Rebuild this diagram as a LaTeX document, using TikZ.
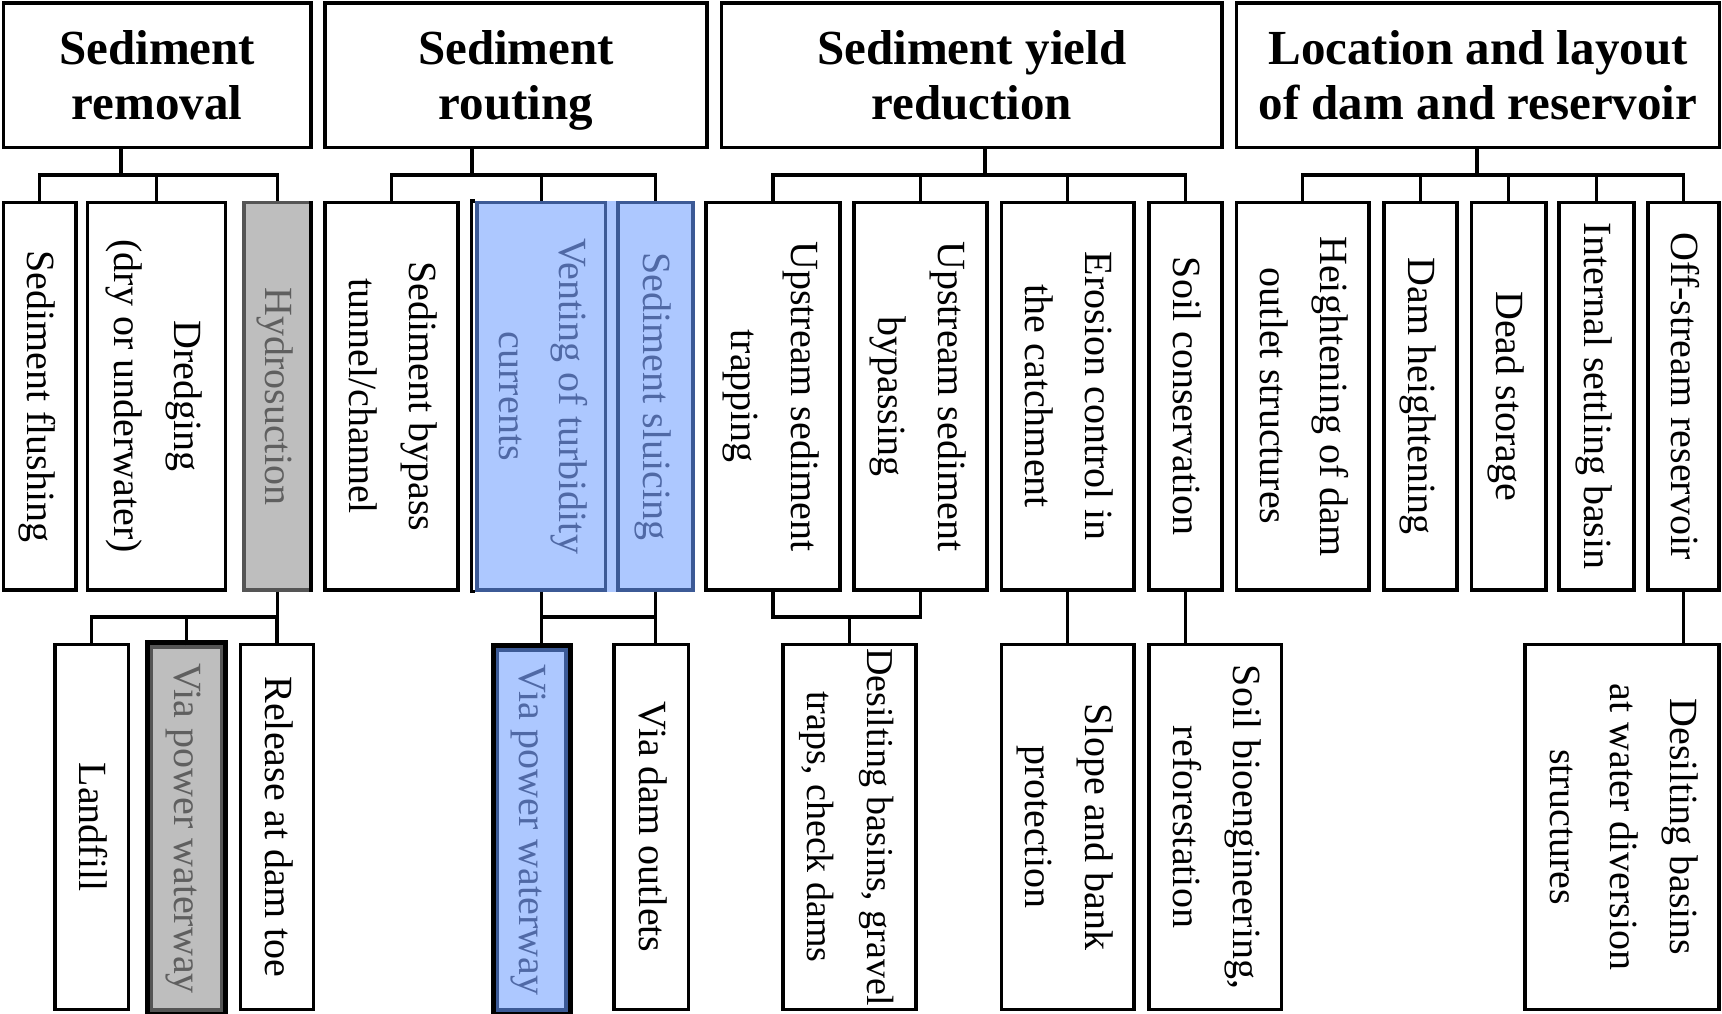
\documentclass[tikz,border=0pt]{standalone}
\usepackage{fontspec}
\setmainfont{Liberation Serif}
\usepackage{graphicx}
\usepackage{tikz}

\definecolor{bluefill}{RGB}{173,200,255}
\definecolor{blueline}{RGB}{60,90,150}
\definecolor{bluetext}{RGB}{80,105,165}
\definecolor{greyfill}{RGB}{190,190,190}
\definecolor{greyline}{RGB}{85,85,85}
\definecolor{greytext}{RGB}{95,95,95}

% vertical label, read from top to bottom
\newcommand{\vlab}[1]{\rotatebox{-90}{\begin{tabular}{@{}c@{}}#1\end{tabular}}}

\begin{document}
\begin{tikzpicture}[x=1pt, y=-1pt, line width=3.3pt,
    head/.style={draw, inner sep=0pt, minimum height=144.5pt, align=center,
        text depth=0pt, font=\fontsize{49}{55}\selectfont\bfseries},
    sub/.style={draw, inner sep=0pt, minimum height=387.5pt,
        font=\fontsize{40}{60}\selectfont},
    leaf/.style={draw, inner sep=0pt, minimum height=365pt,
        font=\fontsize{40}{60}\selectfont},
    greyhl/.style={fill=greyfill, draw=greyline, text=greytext},
    bluehl/.style={fill=bluefill, draw=blueline, text=bluetext}]

\useasboundingbox (0,0) rectangle (1722,1013);

% main groups
\node[head, minimum width=307.5pt] (rem)   at (157.25,75.25) {Sediment\\removal};
\node[head, minimum width=382pt]   (rout)  at (516,75.25)    {Sediment\\routing};
\node[head, minimum width=500.5pt] (yield) at (971.75,75.25) {Sediment yield\\reduction};
\node[head, minimum width=483pt]   (loc)   at (1478,75.25)   {Location and layout\\of dam and reservoir};

% measures
\node[sub, minimum width=72.5pt]         (flush)     at (39.75,396.25)   {\vlab{Sediment flushing}};
\node[sub, minimum width=138pt]          (dredge)    at (156.5,396.25)   {\vlab{Dredging\\(dry or underwater)}};
\node[sub, greyhl, minimum width=67pt]   (hydro)     at (277.5,396.25)   {\vlab{Hydrosuction}};
\node[sub, minimum width=133pt]          (bypass)    at (391.5,396.25)   {\vlab{Sediment bypass\\tunnel/channel}};
\node[sub, bluehl, minimum width=128.5pt] (vent)     at (541.25,396.25)  {\vlab{Venting of turbidity\\currents}};
\node[sub, bluehl, minimum width=75pt]   (sluice)    at (655.5,396.25)   {\vlab{Sediment sluicing}};
\node[sub, minimum width=134pt]          (uptrap)    at (773,396.25)     {\vlab{Upstream sediment\\trapping}};
\node[sub, minimum width=133pt]          (upbypass)  at (920.5,396.25)   {\vlab{Upstream sediment\\bypassing}};
\node[sub, minimum width=132.5pt]        (erosion)   at (1067.75,396.25) {\vlab{Erosion control in\\the catchment}};
\node[sub, minimum width=73pt]           (soilcons)  at (1185.5,396.25)  {\vlab{Soil conservation}};
\node[sub, minimum width=132.5pt]        (heightout) at (1302.75,396.25) {\vlab{Heightening of dam\\outlet structures}};
\node[sub, minimum width=73pt]           (damheight) at (1420.5,396.25)  {\vlab{Dam heightening}};
\node[sub, minimum width=74.5pt]         (deadstor)  at (1508.75,396.25) {\vlab{Dead storage}};
\node[sub, minimum width=75pt]           (settling)  at (1596.5,396.25)  {\vlab{Internal settling basin}};
\node[sub, minimum width=71pt]           (offstream) at (1683.5,396.25)  {\vlab{Off-stream reservoir}};

% details
\node[leaf, minimum width=73.5pt]  (landfill) at (91.75,827)  {\vlab{Landfill}};
\node[leaf, greyhl, minimum width=70pt, minimum height=363pt] (viagrey) at (186.5,828.5) {\vlab{Via power waterway}};
\node[leaf, minimum width=72.5pt]  (release)  at (277,827)    {\vlab{Release at dam toe}};
\node[leaf, bluehl, minimum width=68.5pt, minimum height=360pt] (viablue) at (531.75,830) {\vlab{Via power waterway}};
\node[leaf, minimum width=74.5pt]  (outlets)  at (651.2,827)  {\vlab{Via dam outlets}};
\node[leaf, minimum width=133pt, font=\fontsize{38}{60}\selectfont] (desilt) at (849.5,827) {\vlab{Desilting basins, gravel\\traps, check dams}};
\node[leaf, minimum width=132.5pt] (slope)    at (1067.75,827) {\vlab{Slope and bank\\protection}};
\node[leaf, minimum width=132.5pt] (soilbio)  at (1215.3,827) {\vlab{Soil bioengineering,\\reforestation}};
\node[leaf, minimum width=194pt]   (desiltw)  at (1622,827)   {\vlab{Desilting basins\\at water diversion\\structures}};

% highlight frames
\fill[bluefill] (vent.north east) rectangle (sluice.south west);
\draw (vent.north west) -- ++(-4,0) |- (vent.south west);
\draw ([xshift=-1.65pt]hydro.north east) -- ([xshift=-1.65pt]hydro.south east);
\foreach \n in {viagrey,viablue}
    \draw[line width=5pt] ([shift={(-2.5,-2.5)}]\n.north west) rectangle ([shift={(2.5,2.5)}]\n.south east);

% upper connectors
\coordinate (remstem)   at (121,175);
\coordinate (routstem)  at (472,175);
\coordinate (yieldstem) at (985,175);
\coordinate (locstem)   at (1477,175);

\draw (rem.south -| remstem) -- (remstem);
\draw (flush.north) |- (hydro.north |- remstem) -- (hydro.north);
\draw (dredge.north) -- (dredge.north |- remstem);

\draw (rout.south -| routstem) -- (routstem);
\draw (bypass.north) |- (sluice.north |- routstem) -- (sluice.north);
\draw (vent.north) -- (vent.north |- routstem);

\draw (yield.south -| yieldstem) -- (yieldstem);
\draw (uptrap.north) |- (soilcons.north |- yieldstem) -- (soilcons.north);
\foreach \n in {upbypass,erosion}
    \draw (\n.north) -- (\n.north |- yieldstem);

\draw (loc.south -| locstem) -- (locstem);
\draw (heightout.north) |- (offstream.north |- locstem) -- (offstream.north);
\foreach \n in {damheight,deadstor,settling}
    \draw (\n.north) -- (\n.north |- locstem);

% lower connectors
\coordinate (lowbus) at (0,617);

\draw (hydro.south) -- (hydro.south |- lowbus);
\draw (landfill.north) |- (release.north |- lowbus) -- (release.north);
\draw (viagrey.north) -- (viagrey.north |- lowbus);

\draw (vent.south) -- (vent.south |- viablue.north);
\draw (sluice.south) -- (sluice.south |- outlets.north);
\draw (vent.south |- lowbus) -- (sluice.south |- lowbus);

\draw (uptrap.south) |- (upbypass.south |- lowbus) -- (upbypass.south);
\draw (desilt.north) -- (desilt.north |- lowbus);
\draw (erosion.south) -- (slope.north);
\draw (soilcons.south) -- (soilcons.south |- soilbio.north);
\draw (offstream.south) -- (offstream.south |- desiltw.north);

\end{tikzpicture}
\end{document}
